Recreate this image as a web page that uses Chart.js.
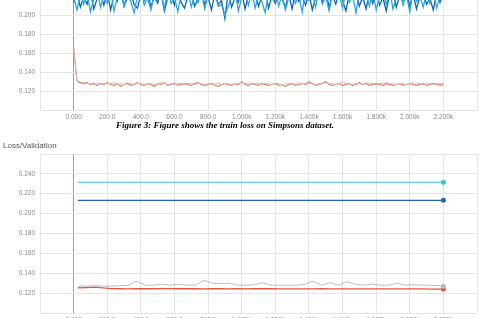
<!DOCTYPE html>
<html><head><meta charset="utf-8">
<script src="https://cdn.jsdelivr.net/npm/chart.js@4.4.1/dist/chart.umd.min.js"></script>
<style>
html,body{margin:0;padding:0;width:483px;height:318px;overflow:hidden;background:#fff;}
canvas{position:absolute;left:0;}
#c1{top:-31px;}
#c2{top:146px;}
#cap{position:absolute;left:0;width:450px;top:120px;text-align:center;font:italic bold 9px "Liberation Serif",serif;color:#000;white-space:nowrap;}
#ttl{position:absolute;left:3px;top:141px;font:8px "Liberation Sans",sans-serif;color:#555;}
</style></head><body>
<canvas id="c1" width="483" height="166"></canvas>
<canvas id="c2" width="483" height="194"></canvas>
<div id="cap">Figure 3: Figure shows the train loss on Simpsons dataset.</div>
<div id="ttl">Loss/Validation</div>
<script>
// ---------- data ----------
const xTickValues = [0,200,400,600,800,1000,1200,1400,1600,1800,2000,2200];
const xTickLabels = ['0.000','200.0','400.0','600.0','800.0','1.000k','1.200k','1.400k','1.600k','1.800k','2.000k','2.200k'];
const yTickValues = [0.12,0.14,0.16,0.18,0.20,0.22,0.24];
const yTickLabels = ['0.120','0.140','0.160','0.180','0.200','0.220','0.240'];

// top chart (train), steps 0..2200 every 20
const trainSteps = [];
for (let s = 0; s <= 2200; s += 20) trainSteps.push(s);
const trainOrange = [0.166,0.131,0.129,0.128,0.129,0.127,0.128,0.126,0.128,0.127,
 0.129,0.127,0.126,0.128,0.125,0.127,0.128,0.126,0.127,0.129,
 0.127,0.126,0.128,0.127,0.125,0.128,0.127,0.129,0.126,0.127,
 0.128,0.126,0.127,0.128,0.127,0.126,0.128,0.129,0.127,0.126,
 0.127,0.128,0.126,0.125,0.127,0.128,0.127,0.126,0.128,0.127,
 0.130,0.127,0.126,0.128,0.127,0.126,0.128,0.127,0.126,0.127,
 0.128,0.126,0.127,0.125,0.127,0.128,0.126,0.127,0.128,0.127,
 0.129,0.128,0.126,0.127,0.128,0.130,0.127,0.126,0.127,0.128,
 0.126,0.127,0.128,0.126,0.127,0.129,0.127,0.128,0.126,0.127,
 0.128,0.127,0.126,0.128,0.127,0.126,0.127,0.128,0.126,0.127,
 0.128,0.127,0.126,0.127,0.128,0.126,0.127,0.128,0.127,0.126,
 0.127];
const trainGrey = [0.165,0.130,0.128,0.129,0.128,0.128,0.127,0.128,0.127,0.128,
 0.128,0.128,0.129,0.127,0.128,0.127,0.129,0.128,0.127,0.128,
 0.128,0.127,0.128,0.128,0.127,0.128,0.129,0.128,0.127,0.128,
 0.127,0.128,0.128,0.127,0.128,0.128,0.127,0.128,0.128,0.127,
 0.128,0.127,0.128,0.128,0.127,0.128,0.128,0.127,0.128,0.128,
 0.129,0.128,0.128,0.127,0.128,0.128,0.127,0.128,0.128,0.127,
 0.128,0.128,0.127,0.128,0.128,0.127,0.128,0.129,0.128,0.128,
 0.131,0.128,0.127,0.128,0.128,0.129,0.128,0.128,0.127,0.128,
 0.130,0.128,0.128,0.127,0.128,0.128,0.127,0.129,0.128,0.128,
 0.127,0.128,0.128,0.129,0.128,0.128,0.127,0.128,0.128,0.127,
 0.128,0.129,0.128,0.128,0.127,0.128,0.128,0.127,0.128,0.128,
 0.128];
const trainBlueLight = [0.220,0.206,0.222,0.212,0.224,0.204,0.218,0.226,0.209,0.221,
 0.213,0.227,0.205,0.219,0.223,0.210,0.225,0.215,0.203,0.221,
 0.228,0.211,0.219,0.206,0.224,0.216,0.222,0.208,0.226,0.213,
 0.220,0.204,0.223,0.217,0.227,0.209,0.221,0.214,0.225,0.207,
 0.222,0.218,0.226,0.210,0.212,0.200,0.210,0.220,0.227,0.205,
 0.219,0.223,0.211,0.226,0.208,0.221,0.215,0.203,0.224,0.217,
 0.228,0.210,0.222,0.206,0.219,0.225,0.213,0.221,0.204,0.226,
 0.216,0.223,0.209,0.227,0.212,0.220,0.205,0.224,0.218,0.222,
 0.208,0.226,0.214,0.221,0.203,0.225,0.217,0.223,0.210,0.227,
 0.206,0.220,0.224,0.212,0.228,0.207,0.219,0.225,0.211,0.222,
 0.204,0.226,0.215,0.221,0.209,0.224,0.213,0.227,0.208,0.220,
 0.223];
const trainBlueDark = [0.214,0.224,0.209,0.220,0.212,0.226,0.207,0.218,0.223,0.211,
 0.225,0.206,0.221,0.215,0.227,0.210,0.219,0.224,0.212,0.208,
 0.222,0.216,0.226,0.209,0.220,0.213,0.225,0.205,0.219,0.223,
 0.211,0.227,0.214,0.208,0.221,0.224,0.210,0.218,0.226,0.212,
 0.220,0.206,0.223,0.212,0.216,0.197,0.225,0.209,0.219,0.214,
 0.226,0.207,0.222,0.217,0.224,0.210,0.220,0.227,0.208,0.221,
 0.213,0.225,0.218,0.209,0.223,0.207,0.226,0.215,0.220,0.211,
 0.224,0.206,0.219,0.222,0.214,0.227,0.209,0.221,0.212,0.225,
 0.216,0.205,0.223,0.218,0.226,0.210,0.220,0.207,0.224,0.213,
 0.227,0.211,0.219,0.205,0.222,0.225,0.209,0.221,0.216,0.226,
 0.210,0.223,0.207,0.220,0.225,0.212,0.218,0.206,0.224,0.214,
 0.221];

// lower chart (validation)
const valSteps = [25,75,125,175,225,275,325,375,425,475,525,575,625,675,725,775,825,875,925,975,
 1025,1075,1125,1175,1225,1275,1325,1375,1425,1475,1525,1575,1625,1675,1725,1775,1825,1875,1925,1975,
 2025,2075,2125,2175,2200];
const valGrey = [0.127,0.127,0.1275,0.127,0.127,0.1275,0.128,0.132,0.128,0.128,
 0.129,0.128,0.129,0.128,0.128,0.133,0.130,0.1295,0.130,0.128,
 0.128,0.1285,0.1305,0.128,0.128,0.128,0.128,0.129,0.132,0.128,
 0.1305,0.128,0.1315,0.129,0.128,0.129,0.128,0.128,0.130,0.128,
 0.1285,0.128,0.128,0.1275,0.127];
const valRed = [0.1252,0.1256,0.126,0.1252,0.1246,0.1244,0.1243,0.1245,0.1244,0.1244,
 0.1246,0.1245,0.1244,0.1245,0.1244,0.1243,0.1244,0.1244,0.1243,0.1244,
 0.1243,0.1244,0.1246,0.1244,0.1243,0.1243,0.1242,0.1243,0.1243,0.1244,
 0.1243,0.1242,0.1242,0.1243,0.1243,0.1242,0.1242,0.1243,0.1242,0.1242,
 0.1242,0.1242,0.1241,0.1241,0.1241];
const valCyanSteps = [25,2200];
const valCyan = [0.2315,0.2315];
const valBlueSteps = [25,2200];
const valBlue = [0.2133,0.2133];

// ---------- helpers ----------
const pts = (xs, ys) => xs.map((x, i) => ({x, y: ys[i]}));
const tickFont = {family: '"Liberation Sans", Arial, sans-serif', size: 6.5};
const tickColor = '#8a8a8a';

function xScale(height) {
  return {
    type: 'linear', min: -200, max: 2400,
    afterBuildTicks: s => { s.ticks = [-200, ...xTickValues, 2400].map(v => ({value: v})); },
    afterFit: s => { s.height = height; },
    ticks: {font: tickFont, color: tickColor, padding: 3, maxRotation: 0, autoSkip: false,
      callback: v => { const i = xTickValues.indexOf(v); return i >= 0 ? xTickLabels[i] : ''; }},
    grid: {drawTicks: false, color: c => (c.tick && c.tick.value === 0) ? '#9e9e9e' : '#e4e4e4', lineWidth: 1},
    border: {display: false}
  };
}
function yScale(max) {
  return {
    type: 'linear', min: 0.1, max: max,
    afterBuildTicks: s => { s.ticks = [0.1, ...yTickValues, max].map(v => ({value: v})); },
    afterFit: s => { s.width = 40; },
    ticks: {font: tickFont, color: tickColor, padding: 5, autoSkip: false,
      callback: v => { const i = yTickValues.findIndex(t => Math.abs(t - v) < 1e-9); return i >= 0 ? yTickLabels[i] : ''; }},
    grid: {drawTicks: false, color: '#e4e4e4', lineWidth: 1},
    border: {display: false}
  };
}
function line(data, color, width, endDot) {
  return {
    data, borderColor: color, backgroundColor: color, borderWidth: width, tension: 0, fill: false,
    pointRadius: endDot ? (c => c.dataIndex === data.length - 1 ? 2.5 : 0) : 0,
    pointBorderWidth: 0, pointHoverRadius: 0
  };
}
const common = {
  responsive: false, animation: false, devicePixelRatio: 1,
  plugins: {legend: {display: false}, tooltip: {enabled: false}},
  parsing: true
};

new Chart(document.getElementById('c1'), {
  type: 'line',
  data: {datasets: [
    line(pts(trainSteps, trainGrey), '#c4c4c4', 1, false),
    line(pts(trainSteps, trainOrange), '#ee6a43', 1.1, false),
    line(pts(trainSteps, trainBlueLight), '#27a9e1', 1.3, false),
    line(pts(trainSteps, trainBlueDark), '#1463ad', 1.3, false)
  ]},
  options: Object.assign({}, common, {
    layout: {padding: {top: 8, right: 6, left: 0, bottom: 0}},
    scales: {x: xScale(25), y: yScale(0.24)}
  })
});

new Chart(document.getElementById('c2'), {
  type: 'line',
  data: {datasets: [
    line(pts(valSteps, valGrey), '#bdbdbd', 1, true),
    line(pts(valSteps, valRed), '#e8533f', 1.3, true),
    line(pts(valCyanSteps, valCyan), '#3fc0de', 1.2, true),
    line(pts(valBlueSteps, valBlue), '#2166ac', 1.2, true)
  ]},
  options: Object.assign({}, common, {
    layout: {padding: {top: 8, right: 6, left: 0, bottom: 0}},
    scales: {x: xScale(27), y: yScale(0.259)}
  })
});
</script>
</body></html>
